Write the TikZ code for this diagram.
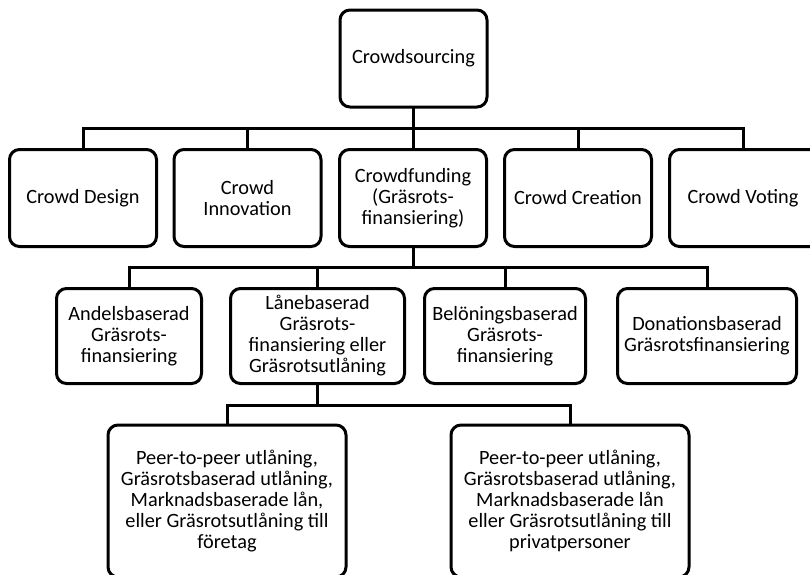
\documentclass[tikz,border=0pt]{standalone}
\usepackage{fontspec}
\setmainfont{Carlito}
\begin{document}
\begin{tikzpicture}[x=1pt,y=-1pt,
  box/.style={draw, line width=3pt, rounded corners=10pt, align=center,
    inner sep=0pt, outer sep=0pt, font=\fontsize{20.3}{21}\selectfont},
  conn/.style={line width=3pt}]
\useasboundingbox (0,0) rectangle (810,574);
\clip (0,0) rectangle (810,574);
% level 1
\node[box, minimum width=147pt, minimum height=97pt] (cs) at (413.5,58.5) {Crowdsourcing};
% level 2
\tikzset{r2/.style={box, minimum width=147pt, minimum height=97pt}}
\node[r2] (cd) at (83,198) {Crowd Design};
\node[r2] (ci) at (247.5,198) {Crowd\\Innovation};
\node[r2] (cf) at (413,198) {Crowdfunding\\(Gräsrots-\\finansiering)};
\node[r2] (cc) at (578,198) {Crowd Creation};
\node[r2, minimum width=160pt] (cv) at (749.5,198) {\hspace*{-13pt}Crowd Voting};
% level 3
\tikzset{r3/.style={box, minimum height=95pt}}
\node[r3, minimum width=145pt] (ab) at (129,336) {Andelsbaserad\\Gräsrots-\\finansiering};
\node[r3, minimum width=174pt] (lb) at (317.5,336) {Lånebaserad\\Gräsrots-\\finansiering eller\\Gräsrotsutlåning};
\node[r3, minimum width=161pt] (bb) at (505,336) {Belöningsbaserad\\Gräsrots-\\finansiering};
\node[r3, minimum width=179pt] (db) at (707,336) {Donationsbaserad\\Gräsrotsfinansiering};
% level 4
\tikzset{r4/.style={box, minimum width=238pt, minimum height=152pt}}
\node[r4] (pf) at (227,501) {Peer-to-peer utlåning,\\Gräsrotsbaserad utlåning,\\Marknadsbaserade lån,\\eller Gräsrotsutlåning till\\företag};
\node[r4] (pp) at (570,501) {Peer-to-peer utlåning,\\Gräsrotsbaserad utlåning,\\Marknadsbaserade lån\\eller Gräsrotsutlåning till\\privatpersoner};
% connectors
\coordinate (j1) at (413.5,128);
\coordinate (j2) at (413,267);
\coordinate (j3) at (317.5,405);
\coordinate (cvtop) at ([xshift=-6.5pt]cv.north);
\draw[conn] (cs.south) -- (j1);
\foreach \c in {cd,ci,cf,cc,cvtop} \draw[conn] (\c) |- (j1);
\draw[conn] (cf.south) -- (j2);
\foreach \c in {ab,lb,bb,db} \draw[conn] (\c.north) |- (j2);
\draw[conn] (lb.south) -- (j3);
\foreach \c in {pf,pp} \draw[conn] (\c.north) |- (j3);
\end{tikzpicture}
\end{document}
